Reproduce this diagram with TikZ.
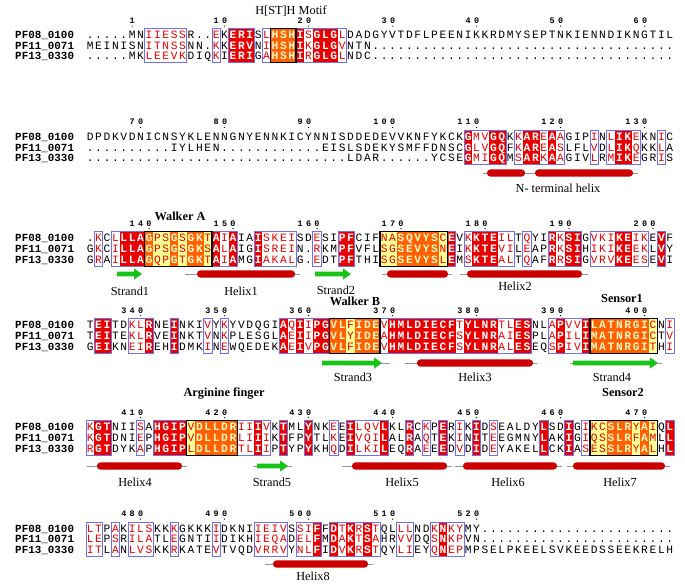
\documentclass[tikz,border=0pt]{standalone}
\usepackage{fontspec}
\setmainfont{Liberation Serif}
\setmonofont{Liberation Mono}

\definecolor{alnRed}{RGB}{232,0,0}
\definecolor{alnRedText}{RGB}{228,0,0}
\definecolor{alnOrange}{RGB}{255,96,0}
\definecolor{alnYellow}{RGB}{255,255,150}
\definecolor{alnPale}{RGB}{255,250,200}
\definecolor{alnFrame}{RGB}{112,112,235}
\definecolor{ssHelix}{RGB}{204,0,0}
\definecolor{ssStrand}{RGB}{24,196,24}
\definecolor{ssLine}{RGB}{150,150,150}

\makeatletter
\newcount\alnc
\newcount\alnstart
\newcount\alnlen
\def\alnleft{86}
\def\alnw{8.4}
\def\aln@cell#1#2#3{\fill[#3] ({\alnleft+(\the\alnc-1)*\alnw},#1) rectangle ({\alnleft+\the\alnc*\alnw},#2);}
\def\aln@frame#1#2#3#4{\draw[alnframe] ({\alnleft+(#3-1)*\alnw},#1) rectangle ({\alnleft+#4*\alnw},#2);}
% column classes: . plain, s similar, r identical, o / y inside a motif
\newcommand\alnbg[3]{%
  \global\alnc=0 \global\alnstart=0
  \@tfor\aln@k:=#3\do{%
    \global\advance\alnc by 1
    \expandafter\xdef\csname alnk@\the\alnc\endcsname{\aln@k}%
    \if r\aln@k\aln@cell{#1}{#2}{alnRed}\fi
    \if o\aln@k\aln@cell{#1}{#2}{alnOrange}\fi
    \if y\aln@k\aln@cell{#1}{#2}{alnYellow}\fi
    \if .\aln@k
      \ifnum\alnstart>0 \aln@frame{#1}{#2}{\the\alnstart}{\the\numexpr\alnc-1\relax}\global\alnstart=0 \fi
    \else
      \ifnum\alnstart=0 \global\alnstart=\alnc\fi
    \fi}%
  \ifnum\alnstart>0 \aln@frame{#1}{#2}{\the\alnstart}{\the\alnc}\fi
  \loop\ifnum\alnc<70 \global\advance\alnc by 1
    \expandafter\xdef\csname alnk@\the\alnc\endcsname{.}\repeat}
\def\aln@style{%
  \if .\aln@kk\def\aln@fmt{}\else
  \if r\aln@kk\def\aln@fmt{\color{white}\bfseries}\else
  \if o\aln@kk\def\aln@fmt{\color{alnPale}\bfseries}\else
  \def\aln@fmt{\color{alnRedText}}\fi\fi\fi}
\newcommand\alnrow[3]{%
  \global\alnc=0
  \@tfor\aln@r:=#3\do{%
    \global\advance\alnc by 1
    \edef\aln@kk{\csname alnk@\the\alnc\endcsname}%
    \aln@style
    \node[residue] (#1-\the\alnc) at ({\alnleft+(\the\alnc-0.5)*\alnw},#2) {\aln@fmt\aln@r};}%
  \loop\ifnum\alnc<70 \global\advance\alnc by 1
    \node[residue] (#1-\the\alnc) at ({\alnleft+(\the\alnc-0.5)*\alnw},#2) {.};\repeat}
\newcommand\alnnum[3]{%
  \fill ({\alnleft+(#2-0.5)*\alnw},#1+2.6) circle (0.55pt);
  \global\alnlen=0
  \@tfor\aln@d:=#3\do{\global\advance\alnlen by 1}%
  \global\alnc=#2\relax \global\advance\alnc by -\alnlen
  \@tfor\aln@d:=#3\do{%
    \global\advance\alnc by 1
    \node[numdigit] (n#3-\the\alnc) at ({\alnleft+(\the\alnc-0.5)*\alnw},#1) {\aln@d};}}
\makeatother
\newcommand\alnbox[4]{\draw[motifbox] ({\alnleft+(#3-1)*\alnw},#1) rectangle ({\alnleft+#4*\alnw},#2);}
\newcommand\sshelix[3]{\fill[ssHelix, rounded corners=2.9pt] (#1,#3-3.6) rectangle (#2,#3+3.6);}
\newcommand\ssstrand[3]{\fill[ssStrand] (#1,#3-2.4) -- (#2-8,#3-2.4) -- (#2-8,#3-5.6)
  -- (#2,#3) -- (#2-8,#3+5.6) -- (#2-8,#3+2.4) -- (#1,#3+2.4) -- cycle;}
\newcommand\ssline[3]{\draw[ssLine, line width=.7pt] (#1,#3) -- (#2,#3);}

\begin{document}
\begin{tikzpicture}[x=0.03cm,y=-0.03cm,
      residue/.style={font=\ttfamily\fontsize{9.6}{9.6}\selectfont, anchor=base, inner sep=0pt},
      numdigit/.style={font=\ttfamily\bfseries\fontsize{7.2}{7.2}\selectfont, anchor=base, inner sep=0pt},
      seqname/.style={font=\ttfamily\bfseries\fontsize{9.3}{9.3}\selectfont, anchor=base west, inner sep=0pt},
      motif/.style={font=\bfseries\fontsize{10.5}{10.5}\selectfont, anchor=base, inner sep=0pt},
      sslabel/.style={font=\fontsize{10.5}{10.5}\selectfont, anchor=base, inner sep=0pt},
      alnframe/.style={draw=alnFrame, line width=.7pt},
      motifbox/.style={draw=black, line width=.95pt}]
  \useasboundingbox (0,0) rectangle (685,585);
  \fill[white] (0,0) rectangle (685,585);

  % block 1
  \alnbg{28.3}{62.9}{.......sssss...s.rrr.sooorsrrrs}
  \alnbox{28.3}{62.9}{23}{25}
  \node[sslabel] (motifHSTH) at (291,14.5) {H[ST]H Motif};
  \alnnum{23.5}{6}{1} \alnnum{23.5}{17}{10} \alnnum{23.5}{27}{20} \alnnum{23.5}{37}{30}
  \alnnum{23.5}{47}{40} \alnnum{23.5}{57}{50} \alnnum{23.5}{67}{60}
  \node[seqname] (b1n1) at (15,38.3) {PF08\_0100};
  \node[seqname] (b1n2) at (15,49.1) {PF11\_0071};
  \node[seqname] (b1n3) at (15,59.9) {PF13\_0330};
  \alnrow{b1a}{38.3}{.....MNIIESSR..EKERISLHSHISGLGLDADGYVTDFLPEENIKKRDMYSEPTNKIENNDIKNGTIL}
  \alnrow{b1b}{49.1}{MEINISNITNSSNN.KKERVNIHSHIKGLGVNTN}
  \alnrow{b1c}{59.9}{.....MKLEEVKDIQKIERIGAHSHIRGLGLNDC}

  % block 2
  \alnbg{130.3}{164.9}{.............................................rssrr.srrsrs...s.srrs..s}
  \alnnum{124.8}{7}{70} \alnnum{124.8}{17}{80} \alnnum{124.8}{27}{90} \alnnum{124.8}{37}{100}
  \alnnum{124.8}{47}{110} \alnnum{124.8}{57}{120} \alnnum{124.8}{67}{130}
  \node[seqname] (b2n1) at (15,140.3) {PF08\_0100};
  \node[seqname] (b2n2) at (15,151.1) {PF11\_0071};
  \node[seqname] (b2n3) at (15,161.9) {PF13\_0330};
  \alnrow{b2a}{140.3}{DPDKVDNICNSYKLENNGNYENNKICYNNISDDEDEVVKNFYKCKGMVGQKKAREAAGIPINLIKEKNIC}
  \alnrow{b2b}{151.1}{..........IYLHEN............EISLSDEKYSMFFDNSCGLVGQFKAREASLFLVDLIKQKKLA}
  \alnrow{b2c}{161.9}{...............................LDAR......YCSEGMIGQMSARKAAGIVLRMIKEGRIS}
  \ssline{483}{638}{173}
  \sshelix{487}{525}{173} \sshelix{535}{633}{173}
  \node[sslabel] (nterm) at (558,192.5) {N- terminal helix};

  % block 3
  \alnbg{231.5}{266.1}{.s.srrroyyoyooyrsr..rssss..s..rr...yyoooooyr.srrrss.s..rsrr.sssrrss.r}
  \alnbox{231.5}{266.1}{8}{15} \alnbox{231.5}{266.1}{36}{43}
  \node[motif] (walkerA) at (180,220) {Walker A};
  \alnnum{226}{8}{140} \alnnum{226}{18}{150} \alnnum{226}{28}{160} \alnnum{226}{38}{170}
  \alnnum{226}{48}{180} \alnnum{226}{58}{190} \alnnum{226}{68}{200}
  \node[seqname] (b3n1) at (15,241.5) {PF08\_0100};
  \node[seqname] (b3n2) at (15,252.3) {PF11\_0071};
  \node[seqname] (b3n3) at (15,263.1) {PF13\_0330};
  \alnrow{b3a}{241.5}{.KCLLLAGPSGSGKTAIAIAISKEISDESIPFCIFNASQVYSCEVKKTEILTQYIRKSIGVKIKEIKEVF}
  \alnrow{b3b}{252.3}{GKCILLAGPSGSGKSALAIGISREIN.RKMPFVFLSGSEVYSNEIKKTEVILEAPRKSIHIKIKEEKLVY}
  \alnrow{b3c}{263.1}{GRAILLAGQPGTGKTAIAMGIAKALG.EDTPFTHISGSEVYSLEMSKTEALTQAFRRSIGVRVKEESEVI}
  \ssstrand{117}{142}{274}
  \ssline{185}{300}{274} \sshelix{197}{295}{274}
  \ssstrand{315}{351}{274}
  \ssline{382}{452}{274} \sshelix{387}{448}{274}
  \ssline{460}{588}{274} \sshelix{467}{582}{274}
  \node[sslabel] (strand1) at (130,295) {Strand1};
  \node[sslabel] (helix1) at (241,295) {Helix1};
  \node[sslabel] (strand2) at (336,294.5) {Strand2};
  \node[sslabel] (helix2) at (515,290.5) {Helix2};

  % block 4
  \alnbg{318.5}{353.1}{.rr..ssr..r...s.s......rsrsrrooyooosrrrrrrrrsrrrrssrr..srssroooooooy.s}
  \alnbox{318.5}{353.1}{30}{35} \alnbox{318.5}{353.1}{61}{68}
  \node[motif] (walkerB) at (355,305) {Walker B};
  \node[motif] (sensor1) at (622,302) {Sensor1};
  \alnnum{313}{7}{340} \alnnum{313}{17}{350} \alnnum{313}{27}{360} \alnnum{313}{37}{370}
  \alnnum{313}{47}{380} \alnnum{313}{57}{390} \alnnum{313}{67}{400}
  \node[seqname] (b4n1) at (15,328.5) {PF08\_0100};
  \node[seqname] (b4n2) at (15,339.3) {PF11\_0071};
  \node[seqname] (b4n3) at (15,350.1) {PF13\_0330};
  \alnrow{b4a}{328.5}{TEITDKLRNEINKIVYKYVDQGIAQIIPGVLFIDEVHMLDIECFTYLNRTLESNLAPVVILATNRGICNI}
  \alnrow{b4b}{339.3}{TEITEKLRVEINKTVNKPLESGLAEIIPGVLYIDEAHMLDIECFSYLNRAIESPLAPILIMATNRGICTV}
  \alnrow{b4c}{350.1}{GEIKNEIREHIDMKINEWQEDEKAEIVPGVLFIDEVHMLDIECFSYLNRALESEQSPIVIMATNRGITHI}
  \ssline{375}{390}{363} \ssstrand{322}{382}{363}
  \ssline{405}{537}{363} \sshelix{417}{533}{363}
  \ssline{570}{662}{363} \ssstrand{573}{658}{363}
  \node[sslabel] (strand3) at (353,381.5) {Strand3};
  \node[sslabel] (helix3) at (475,381.5) {Helix3};
  \node[sslabel] (strand4) at (612,381.5) {Strand4};

  % block 5
  \alnbg{420.5}{455.1}{srr...s.rrrryooooossrs.r..r..s.rsssr..r.s.r.s.r.s.....r..r.syyoooyoy.r}
  \alnbox{420.5}{455.1}{13}{18} \alnbox{420.5}{455.1}{61}{68}
  \node[motif] (argfinger) at (224,396.5) {Arginine finger};
  \node[motif] (sensor2) at (623,396.5) {Sensor2};
  \alnnum{415}{7}{410} \alnnum{415}{17}{420} \alnnum{415}{27}{430} \alnnum{415}{37}{440}
  \alnnum{415}{47}{450} \alnnum{415}{57}{460} \alnnum{415}{67}{470}
  \node[seqname] (b5n1) at (15,430.5) {PF08\_0100};
  \node[seqname] (b5n2) at (15,441.3) {PF11\_0071};
  \node[seqname] (b5n3) at (15,452.1) {PF13\_0330};
  \alnrow{b5a}{430.5}{KGTNIISAHGIPVDLLDRIIIVKTMLYNKEEILQVLKLRCKPERIKIDSEALDYLSDIGIKCSLRYAIQL}
  \alnrow{b5b}{441.3}{KGTDNIEPHGIPVDLLDRLIIIKTFPYTLKEIVQILALRAQTEKINITEEGMNYLAKIGIQSSLRFAMLL}
  \alnrow{b5c}{452.1}{RGTDYKAPHGIPLDLLDRTLIIPTYPYKHQDILKILEQRAEEEDVDIDEYAKELLCKIASESSLRYALHL}
  \ssline{87}{187}{466} \sshelix{97}{182}{466}
  \ssline{253}{292}{466} \ssstrand{257}{288}{466}
  \ssline{342}{452}{466} \sshelix{352}{447}{466}
  \ssline{455}{562}{466} \sshelix{463}{557}{466}
  \ssline{567}{670}{466} \sshelix{573}{665}{466}
  \node[sslabel] (helix4) at (135,486.5) {Helix4};
  \node[sslabel] (strand5) at (272,486.5) {Strand5};
  \node[sslabel] (helix5) at (402,486.5) {Helix5};
  \node[sslabel] (helix6) at (508,486.5) {Helix6};
  \node[sslabel] (helix7) at (620,486.5) {Helix7};

  % block 6
  \alnbg{522}{556.6}{ss.s.sss..s....s....ssss.ssr.rsrsrs..ss..srss}
  \alnnum{516.5}{7}{480} \alnnum{516.5}{17}{490} \alnnum{516.5}{27}{500}
  \alnnum{516.5}{37}{510} \alnnum{516.5}{47}{520}
  \node[seqname] (b6n1) at (15,532) {PF08\_0100};
  \node[seqname] (b6n2) at (15,542.8) {PF11\_0071};
  \node[seqname] (b6n3) at (15,553.6) {PF13\_0330};
  \alnrow{b6a}{532}{LTPAKILSKKKGKKKIDKNIIEIVSSIFFDTKRSTQLLLNDKNKYMY}
  \alnrow{b6b}{542.8}{LEPSRILATLEGNTIIDIKHIEQADELFMDAKTSAHRVVDQSNKPVN}
  \alnrow{b6c}{553.6}{ITLANLVSKKRKATEVTVQDVRRVYNLFIDVKRSTQYLIEYQNEPMPSELPKEELSVKEEDSSEEKRELH}
  \ssline{265}{373}{564} \sshelix{273}{368}{564}
  \node[sslabel] (helix8) at (313,580.5) {Helix8};
\end{tikzpicture}
\end{document}
